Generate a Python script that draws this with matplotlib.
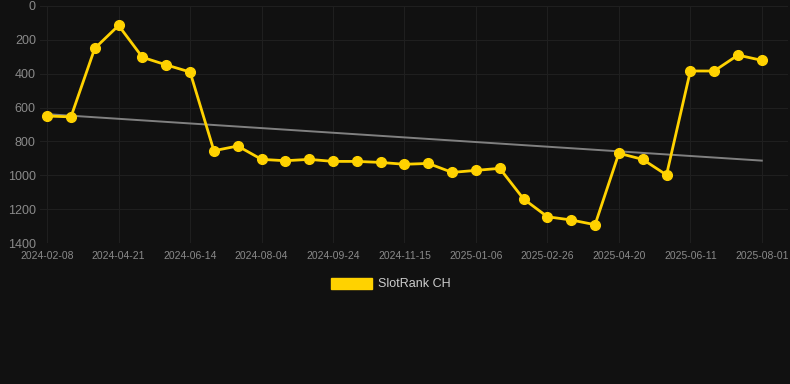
import numpy as np
import matplotlib.pyplot as plt
from matplotlib.patches import Patch

plt.rcParams['font.family'] = ['Liberation Sans', 'DejaVu Sans']

tick_labels = ['2024-02-08', '2024-04-21', '2024-06-14', '2024-08-04', '2024-09-24',
               '2024-11-15', '2025-01-06', '2025-02-26', '2025-04-20', '2025-06-11',
               '2025-08-01']
rank = [650, 655, 250, 115, 303, 348, 390, 855, 827, 906,
        914, 906, 918, 918, 924, 935, 930, 983, 971, 959,
        1140, 1245, 1264, 1292, 870, 906, 998, 384, 384, 290,
        321]

x = np.arange(len(rank))
slope, icpt = np.polyfit(x, rank, 1)

fig = plt.figure(figsize=(7.9, 3.84), dpi=100)
fig.patch.set_facecolor('#111111')
ax = fig.add_axes([40 / 790, 1 - 243 / 384, 748 / 790, 237 / 384])
ax.set_facecolor('#111111')

ax.plot(x, slope * x + icpt + 10, color='#808080', lw=1.4, zorder=2)
ax.plot(x, rank, color='#FFD200', lw=2, marker='o', markersize=7, zorder=3)

ax.set_ylim(1400, 0)
ax.set_yticks(range(0, 1401, 200))
ax.set_xlim(-0.3, 31.1)
ax.set_xticks(x[::3])
ax.set_xticklabels(tick_labels)
ax.grid(True, color='#1f1f1f', lw=0.8)
for s in ax.spines.values():
    s.set_visible(False)
ax.tick_params(axis='y', colors='#8a8a8a', labelsize=9, length=0, pad=3)
ax.tick_params(axis='x', colors='#8a8a8a', labelsize=7.5, length=0, pad=6)

fig.legend(handles=[Patch(color='#FFD200')], labels=['SlotRank CH'],
           loc='center', bbox_to_anchor=(391 / 790, 1 - 284 / 384),
           frameon=False, labelcolor='#cccccc', fontsize=9,
           handlelength=3.3, handleheight=1.0, handletextpad=0.5)

fig.savefig('out.png', dpi=100, facecolor=fig.get_facecolor())
